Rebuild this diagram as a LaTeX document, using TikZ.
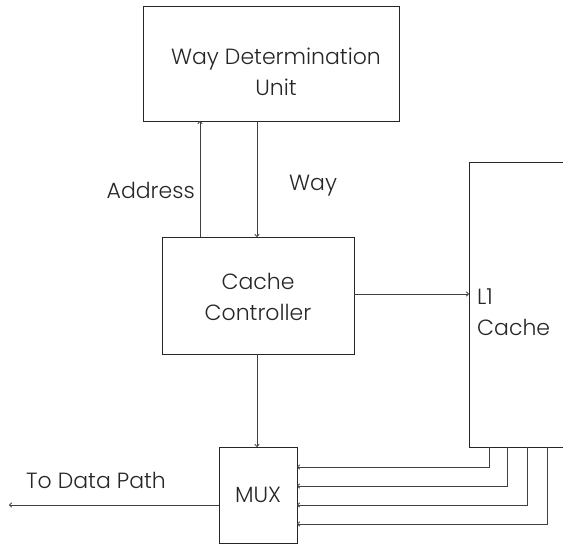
\documentclass[tikz,border=0pt]{standalone}
\usepackage{fontspec}
\usetikzlibrary{arrows.meta}
\setmainfont{Poppins}[UprightFont=* Light]
\begin{document}
\begin{tikzpicture}[x=1pt,y=-1pt,
  blk/.style={draw=black!85,line width=0.9pt},
  wire/.style={draw=black!75,line width=0.8pt},
  arr/.style={wire,-{To[length=3pt,width=5pt]}},
  lbl/.style={font=\fontsize{22}{31}\selectfont,text=black!85,inner sep=0pt,align=center}]
\useasboundingbox (0,0) rectangle (563,546);
% blocks
\draw[blk] (143,6) rectangle (399,121);
\node[lbl] (wdu) at (276,72) {Way Determination\\Unit};
\coordinate (wduA) at (200,121);
\coordinate (wduW) at (257,121);

\draw[blk] (162,237) rectangle (354,354);
\node[lbl] (cc) at (258,297) {Cache\\Controller};
\coordinate (ccA) at (200,237);
\coordinate (ccW) at (257,237);
\coordinate (ccB) at (257,354);
\coordinate (ccR) at (354,294);

% L1 cache, open on the right
\draw[blk] (563,162) -- (469,162) -- (469,447) -- (563,447);
\node[lbl,align=left,anchor=west] (l1) at (477,312) {L1\\Cache};
\coordinate (l1L) at (469,294);

\draw[blk] (219,447) rectangle (297,543);
\node[lbl] (mux) at (258,495) {MUX};
\coordinate (muxT) at (257,447);
\coordinate (muxL) at (219,505);

% labels
\node[lbl,anchor=east] (addr) at (195,190) {Address};
\node[lbl,anchor=west] (way) at (289,186) {Way};
\node[lbl,anchor=west] (tdp) at (26,480) {To Data Path};
\coordinate (out) at (9,505);

% connectors
\draw[arr] (ccA) -- (wduA);
\draw[arr] (wduW) -- (ccW);
\draw[arr] (ccR) -- (l1L);
\draw[arr] (ccB) -- (muxT);
\draw[arr] (muxL) -- (out);
\foreach \x/\y in {489/467,507/486,527/505,547/524}
  \draw[arr] (\x,447) |- (297,\y);
\end{tikzpicture}
\end{document}
